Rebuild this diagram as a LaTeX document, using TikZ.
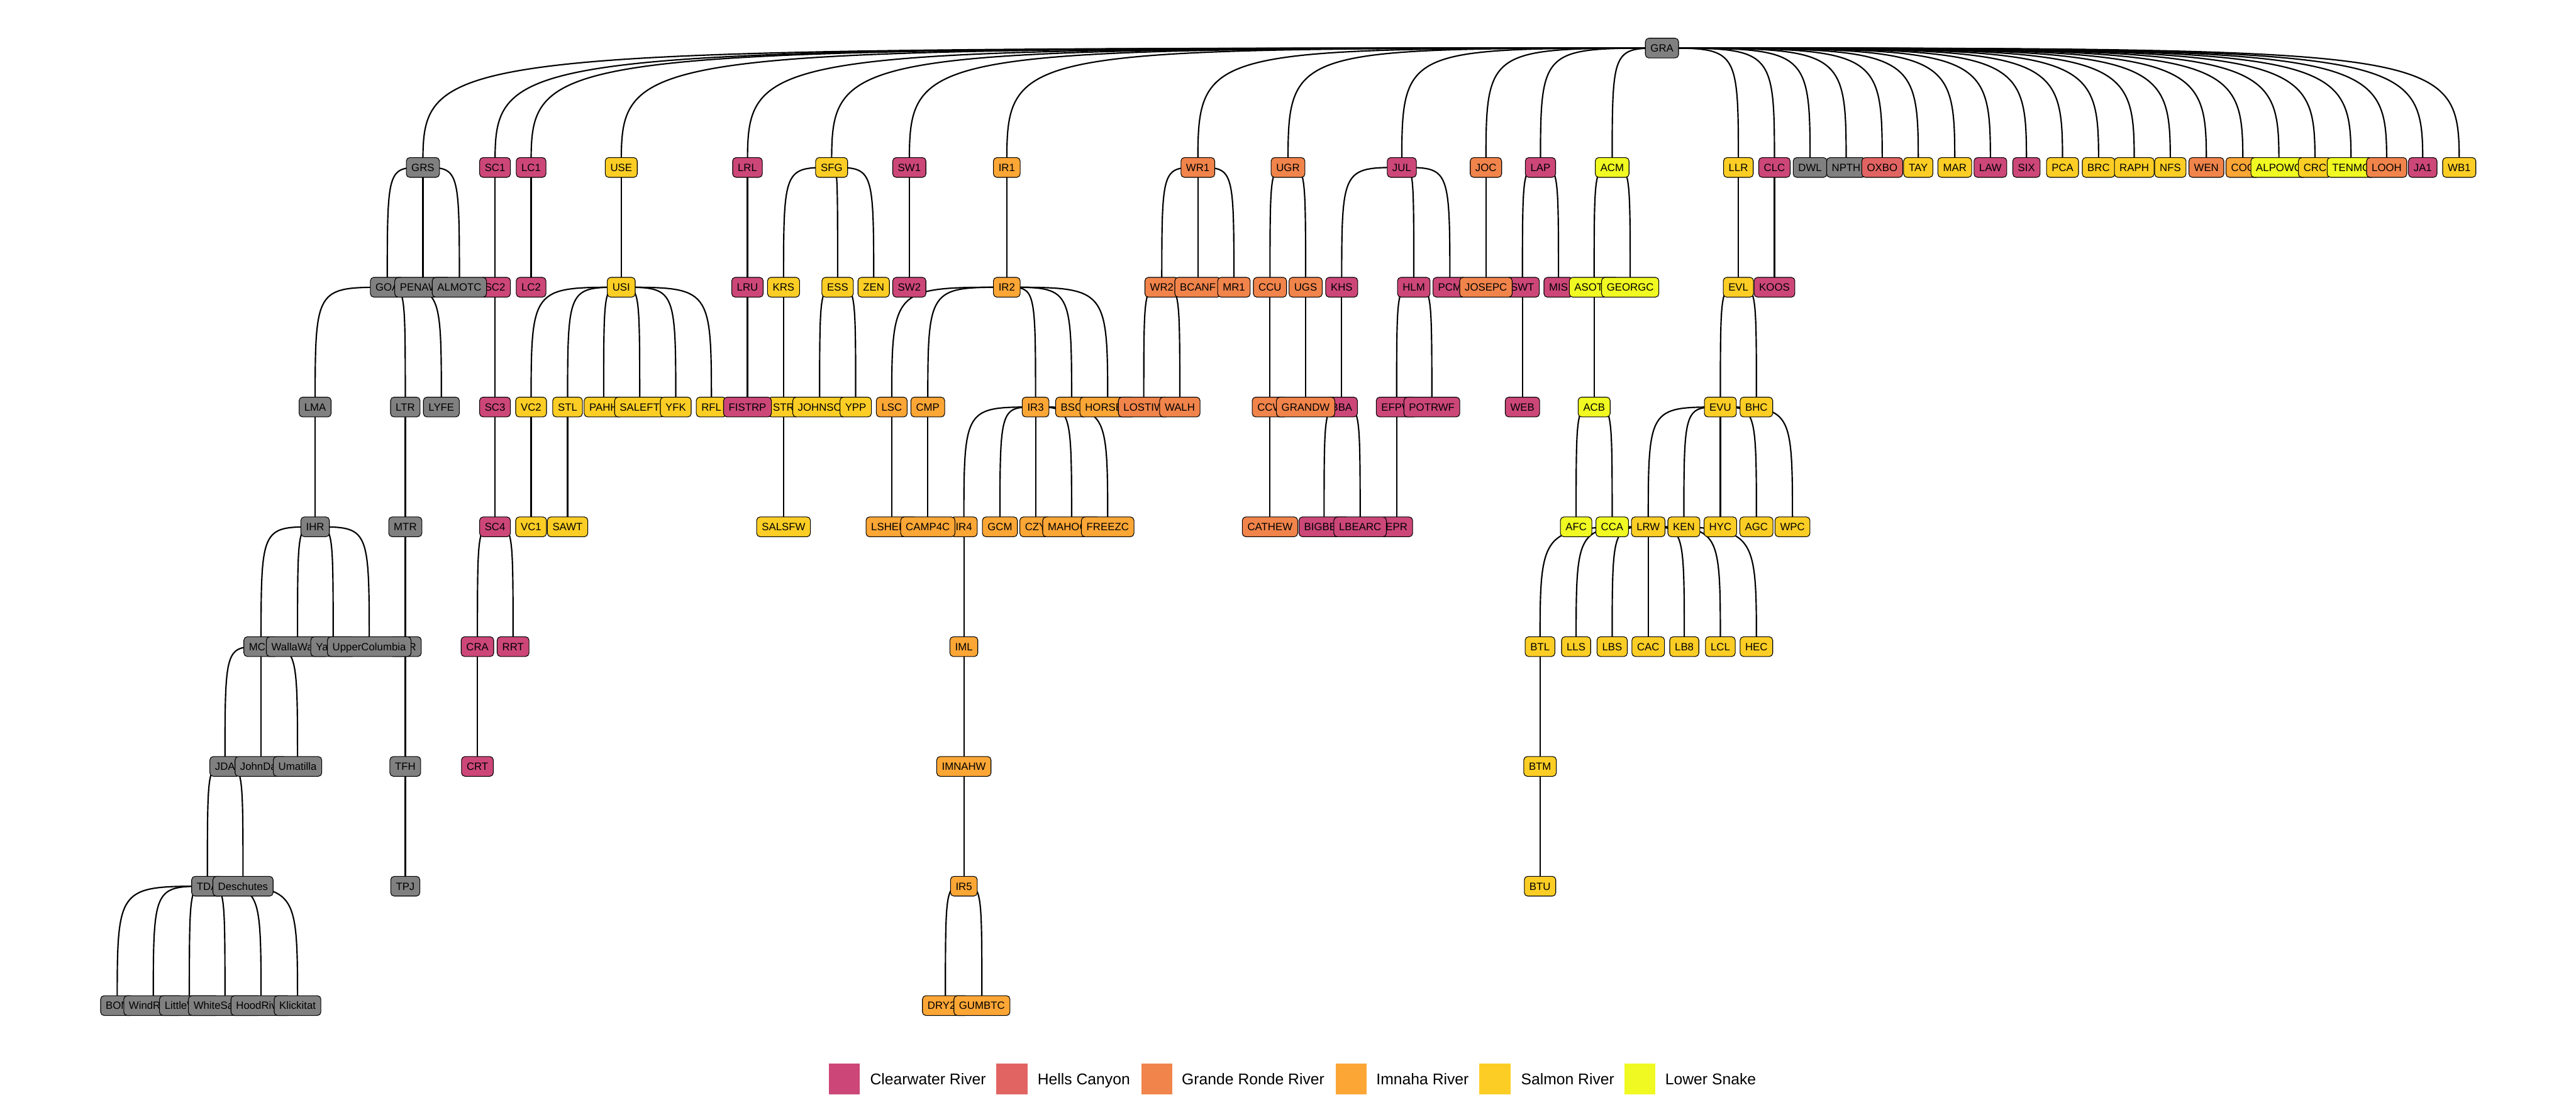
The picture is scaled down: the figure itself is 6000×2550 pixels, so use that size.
\documentclass[tikz,border=0pt]{standalone}
\usepackage{fontspec}
\setmainfont{Liberation Sans}
\pgfdeclarelayer{bg}
\pgfsetlayers{bg,main}
\definecolor{cwcol}{HTML}{CC4778}
\definecolor{hccol}{HTML}{E16462}
\definecolor{grcol}{HTML}{F1844B}
\definecolor{imcol}{HTML}{FCA636}
\definecolor{sacol}{HTML}{FCCE25}
\definecolor{lscol}{HTML}{F0F921}
\definecolor{gycol}{HTML}{808080}
\begin{document}
\begin{tikzpicture}[x=0.01cm, y=-0.01cm,
  box/.style={draw, line width=0.45pt, rectangle, rounded corners=0.8mm, minimum height=0.46cm, inner xsep=3.4pt, inner ysep=0pt, text height=5pt, text depth=0pt, font=\fontsize{7}{8}\selectfont},
  gybox/.style={box, fill=gycol},
  cwbox/.style={box, fill=cwcol},
  hcbox/.style={box, fill=hccol},
  grbox/.style={box, fill=grcol},
  imbox/.style={box, fill=imcol},
  sabox/.style={box, fill=sacol},
  lsbox/.style={box, fill=lscol},
  link/.style={line width=0.9pt, to path={.. controls (\tikztostart -| \tikztotarget) .. (\tikztotarget)}},
  key/.style={rectangle, minimum size=0.72cm, inner sep=0pt},
  keytext/.style={anchor=base west, inner sep=0pt, font=\fontsize{10.3}{12}\selectfont}]
\useasboundingbox (0,0) rectangle (6000,2550);
\node[gybox] (GRA) at (3871,112) {GRA};
\node[gybox] (GRS) at (985,390) {GRS};
\node[cwbox] (SC1) at (1153,390) {SC1};
\node[cwbox] (LC1) at (1237,390) {LC1};
\node[sabox] (USE) at (1447,390) {USE};
\node[cwbox] (LRL) at (1741,390) {LRL};
\node[sabox] (SFG) at (1937,390) {SFG};
\node[cwbox] (SW1) at (2118,390) {SW1};
\node[imbox] (IR1) at (2345,390) {IR1};
\node[grbox] (WR1) at (2790,390) {WR1};
\node[grbox] (UGR) at (3000,390) {UGR};
\node[cwbox] (JUL) at (3265,390) {JUL};
\node[grbox] (JOC) at (3461,390) {JOC};
\node[cwbox] (LAP) at (3588,390) {LAP};
\node[lsbox] (ACM) at (3755,390) {ACM};
\node[sabox] (LLR) at (4049,390) {LLR};
\node[cwbox] (CLC) at (4133,390) {CLC};
\node[gybox] (DWL) at (4216,390) {DWL};
\node[gybox] (NPTH) at (4300,390) {NPTH};
\node[hcbox] (OXBO) at (4384,390) {OXBO};
\node[sabox] (TAY) at (4468,390) {TAY};
\node[sabox] (MAR) at (4553,390) {MAR};
\node[cwbox] (LAW) at (4636,390) {LAW};
\node[cwbox] (SIX) at (4720,390) {SIX};
\node[sabox] (PCA) at (4804,390) {PCA};
\node[sabox] (BRC) at (4888,390) {BRC};
\node[sabox] (RAPH) at (4971,390) {RAPH};
\node[sabox] (NFS) at (5055,390) {NFS};
\node[grbox] (WEN) at (5139,390) {WEN};
\node[imbox] (COC) at (5224,390) {COC};
\node[lsbox] (ALPOWC) at (5308,390) {ALPOWC};
\node[sabox] (CRC) at (5392,390) {CRC};
\node[lsbox] (TENMC) at (5476,390) {TENMC};
\node[grbox] (LOOH) at (5559,390) {LOOH};
\node[cwbox] (JA1) at (5643,390) {JA1};
\node[sabox] (WB1) at (5728,390) {WB1};
\node[gybox] (GOA) at (902,669) {GOA};
\node[gybox] (PENAWC) at (985,669) {PENAWC};
\node[cwbox] (SC2) at (1153,669) {SC2};
\node[gybox] (ALMOTC) at (1070,669) {ALMOTC};
\node[cwbox] (LC2) at (1237,669) {LC2};
\node[sabox] (USI) at (1447,669) {USI};
\node[cwbox] (LRU) at (1741,669) {LRU};
\node[sabox] (KRS) at (1825,669) {KRS};
\node[sabox] (ESS) at (1951,669) {ESS};
\node[sabox] (ZEN) at (2035,669) {ZEN};
\node[cwbox] (SW2) at (2118,669) {SW2};
\node[imbox] (IR2) at (2345,669) {IR2};
\node[grbox] (WR2) at (2706,669) {WR2};
\node[grbox] (BCANF) at (2790,669) {BCANF};
\node[grbox] (MR1) at (2874,669) {MR1};
\node[grbox] (CCU) at (2958,669) {CCU};
\node[grbox] (UGS) at (3041,669) {UGS};
\node[cwbox] (KHS) at (3125,669) {KHS};
\node[cwbox] (HLM) at (3293,669) {HLM};
\node[cwbox] (PCM) at (3377,669) {PCM};
\node[cwbox] (SWT) at (3546,669) {SWT};
\node[grbox] (JOSEPC) at (3461,669) {JOSEPC};
\node[cwbox] (MIS) at (3630,669) {MIS};
\node[lsbox] (ASOTIC) at (3713,669) {ASOTIC};
\node[lsbox] (GEORGC) at (3797,669) {GEORGC};
\node[sabox] (EVL) at (4049,669) {EVL};
\node[cwbox] (KOOS) at (4133,669) {KOOS};
\node[gybox] (LMA) at (734,948) {LMA};
\node[gybox] (LTR) at (944,948) {LTR};
\node[gybox] (LYFE) at (1028,948) {LYFE};
\node[cwbox] (SC3) at (1153,948) {SC3};
\node[sabox] (VC2) at (1237,948) {VC2};
\node[sabox] (STL) at (1322,948) {STL};
\node[sabox] (PAHH) at (1406,948) {PAHH};
\node[sabox] (SALEFT) at (1490,948) {SALEFT};
\node[sabox] (YFK) at (1574,948) {YFK};
\node[sabox] (RFL) at (1657,948) {RFL};
\node[sabox] (STR) at (1825,948) {STR};
\node[cwbox] (FISTRP) at (1741,948) {FISTRP};
\node[sabox] (JOHNSC) at (1909,948) {JOHNSC};
\node[sabox] (YPP) at (1993,948) {YPP};
\node[imbox] (LSC) at (2077,948) {LSC};
\node[imbox] (CMP) at (2161,948) {CMP};
\node[imbox] (IR3) at (2412,948) {IR3};
\node[imbox] (BSC) at (2496,948) {BSC};
\node[imbox] (HORSEC) at (2580,948) {HORSEC};
\node[grbox] (LOSTIW) at (2664,948) {LOSTIW};
\node[grbox] (WALH) at (2748,948) {WALH};
\node[grbox] (CCW) at (2958,948) {CCW};
\node[cwbox] (BBA) at (3125,948) {BBA};
\node[grbox] (GRANDW) at (3041,948) {GRANDW};
\node[cwbox] (EFPW) at (3253,948) {EFPW};
\node[cwbox] (POTRWF) at (3335,948) {POTRWF};
\node[cwbox] (WEB) at (3546,948) {WEB};
\node[lsbox] (ACB) at (3713,948) {ACB};
\node[sabox] (EVU) at (4007,948) {EVU};
\node[sabox] (BHC) at (4091,948) {BHC};
\node[gybox] (IHR) at (734,1227) {IHR};
\node[gybox] (MTR) at (944,1227) {MTR};
\node[cwbox] (SC4) at (1153,1227) {SC4};
\node[sabox] (VC1) at (1237,1227) {VC1};
\node[sabox] (SAWT) at (1322,1227) {SAWT};
\node[sabox] (SALSFW) at (1825,1227) {SALSFW};
\node[imbox] (LSHEEF) at (2077,1227) {LSHEEF};
\node[imbox] (IR4) at (2245,1227) {IR4};
\node[imbox] (CAMP4C) at (2161,1227) {CAMP4C};
\node[imbox] (GCM) at (2329,1227) {GCM};
\node[imbox] (CZY) at (2412,1227) {CZY};
\node[imbox] (MAHOGC) at (2496,1227) {MAHOGC};
\node[imbox] (FREEZC) at (2580,1227) {FREEZC};
\node[grbox] (CATHEW) at (2958,1227) {CATHEW};
\node[cwbox] (BIGBEC) at (3084,1227) {BIGBEC};
\node[cwbox] (EPR) at (3253,1227) {EPR};
\node[cwbox] (LBEARC) at (3168,1227) {LBEARC};
\node[lsbox] (AFC) at (3671,1227) {AFC};
\node[lsbox] (CCA) at (3755,1227) {CCA};
\node[sabox] (LRW) at (3839,1227) {LRW};
\node[sabox] (KEN) at (3922,1227) {KEN};
\node[sabox] (HYC) at (4007,1227) {HYC};
\node[sabox] (AGC) at (4091,1227) {AGC};
\node[sabox] (WPC) at (4175,1227) {WPC};
\node[gybox] (MCN) at (608,1506) {MCN};
\node[gybox] (WallaWalla) at (693,1506) {WallaWalla};
\node[gybox] (Yakima) at (776,1506) {Yakima};
\node[gybox] (UTR) at (944,1506) {UTR};
\node[gybox] (UpperColumbia) at (860,1506) {UpperColumbia};
\node[cwbox] (CRA) at (1112,1506) {CRA};
\node[cwbox] (RRT) at (1195,1506) {RRT};
\node[imbox] (IML) at (2245,1506) {IML};
\node[sabox] (BTL) at (3587,1506) {BTL};
\node[sabox] (LLS) at (3671,1506) {LLS};
\node[sabox] (LBS) at (3755,1506) {LBS};
\node[sabox] (CAC) at (3839,1506) {CAC};
\node[sabox] (LB8) at (3923,1506) {LB8};
\node[sabox] (LCL) at (4007,1506) {LCL};
\node[sabox] (HEC) at (4091,1506) {HEC};
\node[gybox] (JDA) at (524,1785) {JDA};
\node[gybox] (JohnDay) at (608,1785) {JohnDay};
\node[gybox] (Umatilla) at (693,1785) {Umatilla};
\node[gybox] (TFH) at (944,1785) {TFH};
\node[cwbox] (CRT) at (1112,1785) {CRT};
\node[imbox] (IMNAHW) at (2245,1785) {IMNAHW};
\node[sabox] (BTM) at (3587,1785) {BTM};
\node[gybox] (TDA) at (483,2064) {TDA};
\node[gybox] (Deschutes) at (566,2064) {Deschutes};
\node[gybox] (TPJ) at (944,2064) {TPJ};
\node[imbox] (IR5) at (2245,2064) {IR5};
\node[sabox] (BTU) at (3587,2064) {BTU};
\node[gybox] (BON) at (273,2342) {BON};
\node[gybox] (WindRiver) at (357,2342) {WindRiver};
\node[gybox] (LittleWhite) at (441,2342) {LittleWhite};
\node[gybox] (WhiteSalmon) at (524,2342) {WhiteSalmon};
\node[gybox] (HoodRiver) at (608,2342) {HoodRiver};
\node[gybox] (Klickitat) at (693,2342) {Klickitat};
\node[imbox] (DRY2C) at (2202,2342) {DRY2C};
\node[imbox] (GUMBTC) at (2287,2342) {GUMBTC};
\node[key, fill=cwcol] (kcw) at (1967,2513) {};
\node[keytext] (tcw) at (2026,2526) {Clearwater River};
\node[key, fill=hccol] (khc) at (2357,2513) {};
\node[keytext] (thc) at (2416,2526) {Hells Canyon};
\node[key, fill=grcol] (kgr) at (2694,2513) {};
\node[keytext] (tgr) at (2752,2526) {Grande Ronde River};
\node[key, fill=imcol] (kim) at (3147,2513) {};
\node[keytext] (tim) at (3205,2526) {Imnaha River};
\node[key, fill=sacol] (ksa) at (3482,2513) {};
\node[keytext] (tsa) at (3542,2526) {Salmon River};
\node[key, fill=lscol] (kls) at (3820,2513) {};
\node[keytext] (tls) at (3878,2526) {Lower Snake};
\begin{pgfonlayer}{bg}
\draw[link] (GRA.center) to (GRS.center);
\draw[link] (GRA.center) to (SC1.center);
\draw[link] (GRA.center) to (LC1.center);
\draw[link] (GRA.center) to (USE.center);
\draw[link] (GRA.center) to (LRL.center);
\draw[link] (GRA.center) to (SFG.center);
\draw[link] (GRA.center) to (SW1.center);
\draw[link] (GRA.center) to (IR1.center);
\draw[link] (GRA.center) to (WR1.center);
\draw[link] (GRA.center) to (UGR.center);
\draw[link] (GRA.center) to (JUL.center);
\draw[link] (GRA.center) to (JOC.center);
\draw[link] (GRA.center) to (LAP.center);
\draw[link] (GRA.center) to (ACM.center);
\draw[link] (GRA.center) to (LLR.center);
\draw[link] (GRA.center) to (CLC.center);
\draw[link] (GRA.center) to (DWL.center);
\draw[link] (GRA.center) to (NPTH.center);
\draw[link] (GRA.center) to (OXBO.center);
\draw[link] (GRA.center) to (TAY.center);
\draw[link] (GRA.center) to (MAR.center);
\draw[link] (GRA.center) to (LAW.center);
\draw[link] (GRA.center) to (SIX.center);
\draw[link] (GRA.center) to (PCA.center);
\draw[link] (GRA.center) to (BRC.center);
\draw[link] (GRA.center) to (RAPH.center);
\draw[link] (GRA.center) to (NFS.center);
\draw[link] (GRA.center) to (WEN.center);
\draw[link] (GRA.center) to (COC.center);
\draw[link] (GRA.center) to (ALPOWC.center);
\draw[link] (GRA.center) to (CRC.center);
\draw[link] (GRA.center) to (TENMC.center);
\draw[link] (GRA.center) to (LOOH.center);
\draw[link] (GRA.center) to (JA1.center);
\draw[link] (GRA.center) to (WB1.center);
\draw[link] (GRS.center) to (GOA.center);
\draw[link] (GRS.center) to (PENAWC.center);
\draw[link] (GRS.center) to (ALMOTC.center);
\draw[link] (SC1.center) to (SC2.center);
\draw[link] (LC1.center) to (LC2.center);
\draw[link] (USE.center) to (USI.center);
\draw[link] (LRL.center) to (LRU.center);
\draw[link] (SFG.center) to (KRS.center);
\draw[link] (SFG.center) to (ESS.center);
\draw[link] (SFG.center) to (ZEN.center);
\draw[link] (SW1.center) to (SW2.center);
\draw[link] (IR1.center) to (IR2.center);
\draw[link] (WR1.center) to (WR2.center);
\draw[link] (WR1.center) to (BCANF.center);
\draw[link] (WR1.center) to (MR1.center);
\draw[link] (UGR.center) to (CCU.center);
\draw[link] (UGR.center) to (UGS.center);
\draw[link] (JUL.center) to (KHS.center);
\draw[link] (JUL.center) to (HLM.center);
\draw[link] (JUL.center) to (PCM.center);
\draw[link] (JOC.center) to (JOSEPC.center);
\draw[link] (LAP.center) to (SWT.center);
\draw[link] (LAP.center) to (MIS.center);
\draw[link] (ACM.center) to (ASOTIC.center);
\draw[link] (ACM.center) to (GEORGC.center);
\draw[link] (LLR.center) to (EVL.center);
\draw[link] (CLC.center) to (KOOS.center);
\draw[link] (GOA.center) to (LMA.center);
\draw[link] (GOA.center) to (LTR.center);
\draw[link] (GOA.center) to (LYFE.center);
\draw[link] (SC2.center) to (SC3.center);
\draw[link] (USI.center) to (VC2.center);
\draw[link] (USI.center) to (STL.center);
\draw[link] (USI.center) to (PAHH.center);
\draw[link] (USI.center) to (SALEFT.center);
\draw[link] (USI.center) to (YFK.center);
\draw[link] (USI.center) to (RFL.center);
\draw[link] (LRU.center) to (FISTRP.center);
\draw[link] (KRS.center) to (STR.center);
\draw[link] (ESS.center) to (JOHNSC.center);
\draw[link] (ESS.center) to (YPP.center);
\draw[link] (IR2.center) to (LSC.center);
\draw[link] (IR2.center) to (CMP.center);
\draw[link] (IR2.center) to (IR3.center);
\draw[link] (IR2.center) to (BSC.center);
\draw[link] (IR2.center) to (HORSEC.center);
\draw[link] (WR2.center) to (LOSTIW.center);
\draw[link] (WR2.center) to (WALH.center);
\draw[link] (CCU.center) to (CCW.center);
\draw[link] (UGS.center) to (GRANDW.center);
\draw[link] (KHS.center) to (BBA.center);
\draw[link] (HLM.center) to (EFPW.center);
\draw[link] (HLM.center) to (POTRWF.center);
\draw[link] (SWT.center) to (WEB.center);
\draw[link] (ASOTIC.center) to (ACB.center);
\draw[link] (EVL.center) to (EVU.center);
\draw[link] (EVL.center) to (BHC.center);
\draw[link] (LMA.center) to (IHR.center);
\draw[link] (LTR.center) to (MTR.center);
\draw[link] (SC3.center) to (SC4.center);
\draw[link] (VC2.center) to (VC1.center);
\draw[link] (STL.center) to (SAWT.center);
\draw[link] (STR.center) to (SALSFW.center);
\draw[link] (LSC.center) to (LSHEEF.center);
\draw[link] (CMP.center) to (CAMP4C.center);
\draw[link] (IR3.center) to (IR4.center);
\draw[link] (IR3.center) to (GCM.center);
\draw[link] (IR3.center) to (CZY.center);
\draw[link] (IR3.center) to (MAHOGC.center);
\draw[link] (IR3.center) to (FREEZC.center);
\draw[link] (CCW.center) to (CATHEW.center);
\draw[link] (BBA.center) to (BIGBEC.center);
\draw[link] (BBA.center) to (LBEARC.center);
\draw[link] (EFPW.center) to (EPR.center);
\draw[link] (ACB.center) to (AFC.center);
\draw[link] (ACB.center) to (CCA.center);
\draw[link] (EVU.center) to (LRW.center);
\draw[link] (EVU.center) to (KEN.center);
\draw[link] (EVU.center) to (HYC.center);
\draw[link] (EVU.center) to (AGC.center);
\draw[link] (EVU.center) to (WPC.center);
\draw[link] (IHR.center) to (MCN.center);
\draw[link] (IHR.center) to (WallaWalla.center);
\draw[link] (IHR.center) to (Yakima.center);
\draw[link] (IHR.center) to (UpperColumbia.center);
\draw[link] (MTR.center) to (UTR.center);
\draw[link] (SC4.center) to (CRA.center);
\draw[link] (SC4.center) to (RRT.center);
\draw[link] (IR4.center) to (IML.center);
\draw[link] (LRW.center) to (BTL.center);
\draw[link] (LRW.center) to (LLS.center);
\draw[link] (LRW.center) to (LBS.center);
\draw[link] (LRW.center) to (CAC.center);
\draw[link] (LRW.center) to (LB8.center);
\draw[link] (LRW.center) to (LCL.center);
\draw[link] (LRW.center) to (HEC.center);
\draw[link] (MCN.center) to (JDA.center);
\draw[link] (MCN.center) to (JohnDay.center);
\draw[link] (MCN.center) to (Umatilla.center);
\draw[link] (UTR.center) to (TFH.center);
\draw[link] (CRA.center) to (CRT.center);
\draw[link] (IML.center) to (IMNAHW.center);
\draw[link] (BTL.center) to (BTM.center);
\draw[link] (JDA.center) to (TDA.center);
\draw[link] (JDA.center) to (Deschutes.center);
\draw[link] (TFH.center) to (TPJ.center);
\draw[link] (IMNAHW.center) to (IR5.center);
\draw[link] (BTM.center) to (BTU.center);
\draw[link] (TDA.center) to (BON.center);
\draw[link] (TDA.center) to (WindRiver.center);
\draw[link] (TDA.center) to (LittleWhite.center);
\draw[link] (TDA.center) to (WhiteSalmon.center);
\draw[link] (TDA.center) to (HoodRiver.center);
\draw[link] (TDA.center) to (Klickitat.center);
\draw[link] (IR5.center) to (DRY2C.center);
\draw[link] (IR5.center) to (GUMBTC.center);
\end{pgfonlayer}
\end{tikzpicture}
\end{document}
